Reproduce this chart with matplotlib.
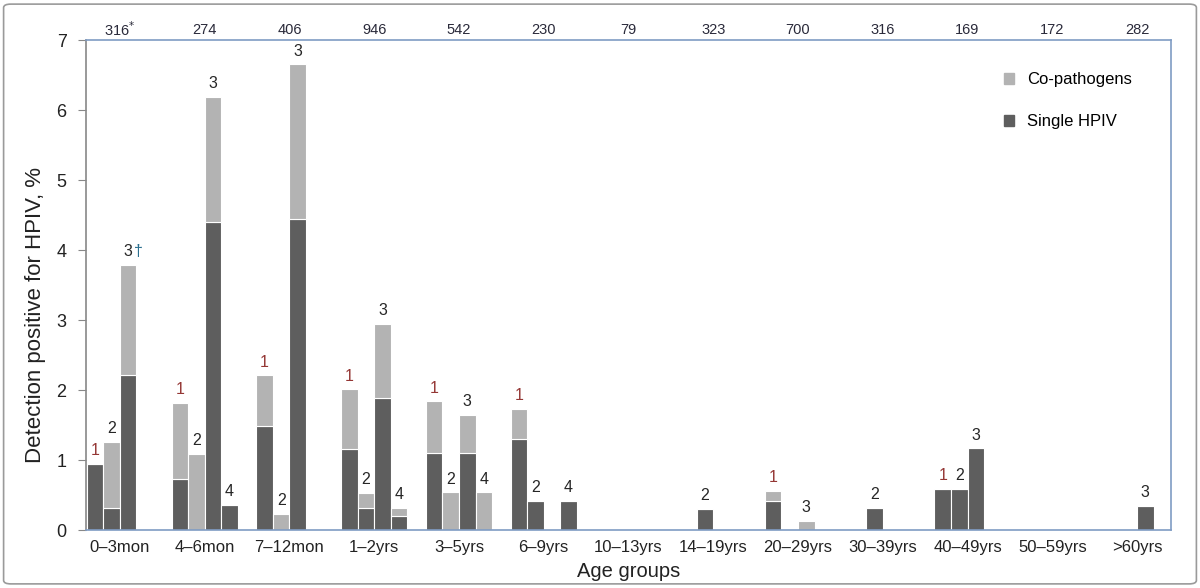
import numpy as np
import matplotlib
matplotlib.use('Agg')
import matplotlib.pyplot as plt
from matplotlib.patches import FancyBboxPatch, Patch
from matplotlib.transforms import blended_transform_factory

plt.rcParams['font.family'] = ['Liberation Sans', 'DejaVu Sans']

# age groups and number tested in each
groups = ['0–3mon', '4–6mon', '7–12mon', '1–2yrs', '3–5yrs', '6–9yrs', '10–13yrs',
          '14–19yrs', '20–29yrs', '30–39yrs', '40–49yrs', '50–59yrs', '>60yrs']
n_tested = ['316', '274', '406', '946', '542', '230', '79',
            '323', '700', '316', '169', '172', '282']

# % positive, HPIV types 1..4 per group
single = [
    [0.95, 0.32, 2.21, 0.00],
    [0.73, 0.00, 4.40, 0.36],
    [1.49, 0.00, 4.44, 0.00],
    [1.16, 0.32, 1.89, 0.20],
    [1.10, 0.00, 1.10, 0.00],
    [1.30, 0.42, 0.00, 0.42],
    [0.00, 0.00, 0.00, 0.00],
    [0.00, 0.30, 0.00, 0.00],
    [0.42, 0.00, 0.00, 0.00],
    [0.00, 0.32, 0.00, 0.00],
    [0.59, 0.59, 1.17, 0.00],
    [0.00, 0.00, 0.00, 0.00],
    [0.00, 0.00, 0.35, 0.00],
]
copath = [
    [0.00, 0.94, 1.58, 0.00],
    [1.09, 1.09, 1.79, 0.00],
    [0.72, 0.23, 2.22, 0.00],
    [0.85, 0.21, 1.06, 0.12],
    [0.74, 0.54, 0.55, 0.54],
    [0.43, 0.00, 0.00, 0.00],
    [0.00, 0.00, 0.00, 0.00],
    [0.00, 0.00, 0.00, 0.00],
    [0.14, 0.00, 0.13, 0.00],
    [0.00, 0.00, 0.00, 0.00],
    [0.00, 0.00, 0.00, 0.00],
    [0.00, 0.00, 0.00, 0.00],
    [0.00, 0.00, 0.00, 0.00],
]
types = ['1', '2', '3', '4']

single = np.array(single)
copath = np.array(copath)

dark = '#5e5e5e'
light = '#b3b3b3'
blue = '#7f9cc4'

fig = plt.figure(figsize=(12, 5.88), dpi=100)
ax = fig.add_axes([0.0717, 0.0986, 0.9041, 0.8329])

x = np.arange(len(groups))
w = 0.195
for k in range(4):
    xs = x + (k - 1.5) * w
    ax.bar(xs, single[:, k], w, color=dark, edgecolor='white', linewidth=0.8)
    ax.bar(xs, copath[:, k], w, bottom=single[:, k], color=light,
           edgecolor='white', linewidth=0.8)
    tot = single[:, k] + copath[:, k]
    for xi, t in zip(xs, tot):
        if t <= 0:
            continue
        col = '#943634' if k == 0 else '#262626'
        ax.annotate(types[k], (xi, t), xytext=(0, 4), textcoords='offset points',
                    ha='center', va='bottom', fontsize=11.5, color=col)

# dagger next to the first group's type-3 label
t3 = single[0, 2] + copath[0, 2]
ax.annotate('†', (x[0] + 0.5 * w, t3), xytext=(4, 4), textcoords='offset points',
            ha='left', va='bottom', fontsize=11.5, color='#2a6f8f')

ax.set_xlim(-0.4, len(groups) - 0.6)
ax.set_ylim(0, 7)
ax.set_xticks(x)
ax.set_xticklabels(groups, fontsize=12, color='#222222')
ax.tick_params(axis='x', length=0, pad=7)
ax.set_yticks(range(8))
ax.tick_params(axis='y', labelsize=13, colors='#888888', labelcolor='#222222',
               length=6, direction='out', pad=8)

for s in ['top', 'right', 'bottom']:
    ax.spines[s].set_color(blue)
    ax.spines[s].set_linewidth(1.2)
ax.spines['left'].set_color('#888888')
ax.spines['left'].set_linewidth(1.2)

ax.set_ylabel('Detection positive for HPIV, %', fontsize=16, color='#222222')
ax.yaxis.set_label_coords(-0.037, 0.44)
ax.set_xlabel('Age groups', fontsize=14.5, color='#222222', labelpad=5)

# numbers tested above each group
tr = blended_transform_factory(ax.transData, ax.transAxes)
for xi, n in zip(x, n_tested):
    lab = n + '$^{*}$' if xi == 0 else n
    ax.text(xi, 1.021, lab, transform=tr, ha='center', va='center',
            fontsize=10.5, color='#2a2a3a')

handles = [Patch(color=light, label='Co-pathogens'), Patch(color=dark, label='Single HPIV')]
ax.legend(handles=handles, loc='upper right', bbox_to_anchor=(0.978, 0.965),
          frameon=False, fontsize=12, handlelength=0.6, handleheight=0.6,
          labelspacing=1.6, handletextpad=0.8)

fig.patches.append(FancyBboxPatch((0.003, 0.007), 0.994, 0.986,
                                  boxstyle='round,pad=0,rounding_size=0.006',
                                  transform=fig.transFigure, facecolor='none',
                                  edgecolor='#9a9a9a', linewidth=1.2))

fig.savefig('out.png', dpi=100)
